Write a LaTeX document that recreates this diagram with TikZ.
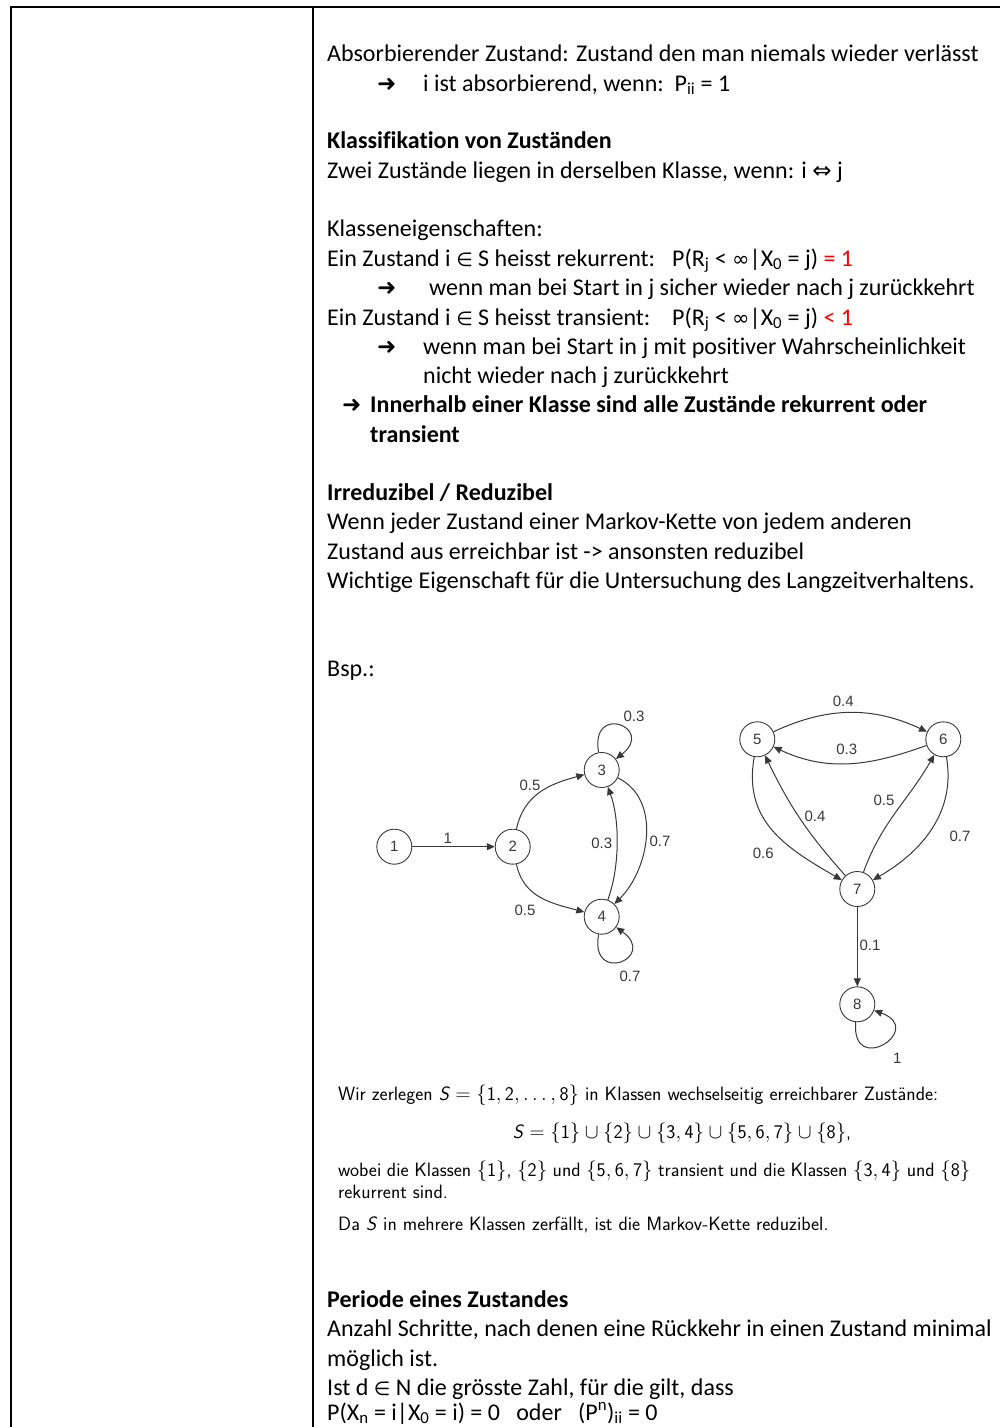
\documentclass[tikz,border=0pt]{standalone}
\usepackage{fontspec}
\setmainfont[Ligatures={NoCommon}]{Carlito}
\newfontfamily\symf{DejaVu Sans}
\newfontfamily\lblf{Liberation Sans}
\usetikzlibrary{arrows.meta}
\definecolor{gr}{HTML}{383838}
\newcommand\Ssf{\textsf{\textit{S}}}
\newcommand\sfm[1]{\mathsf{#1}}
\newcommand\elem{{\symf\fontsize{19}{20}\selectfont ∈}}
\newcommand\infy{{\symf\fontsize{21}{20}\selectfont ∞}}
\tikzset{
  txt/.style={anchor=base west,inner sep=0pt,font=\fontsize{24}{28}\selectfont},
  btxt/.style={txt,font=\fontsize{24}{28}\selectfont\bfseries},
  arr/.style={anchor=base west,inner sep=0pt,font=\symf\fontsize{23}{24}\selectfont},
  stxt/.style={anchor=base west,inner sep=0pt,font=\sffamily\fontsize{19.3}{23}\selectfont},
  frame/.style={line width=1.8pt,black},
  st/.style={circle,draw=gr,line width=0.9pt,minimum size=35pt,inner sep=0pt,font=\lblf\fontsize{15}{15}\selectfont,text=gr},
  ed/.style={draw=gr,line width=1pt,-{Triangle[length=8pt,width=7pt]}},
  lb/.style={font=\lblf\fontsize{15}{15}\selectfont,text=gr,inner sep=0pt}
}
\begin{document}
\begin{tikzpicture}[x=1pt,y=1pt]
\useasboundingbox (0,0) rectangle (1000,-1427);
% table frame
\coordinate (tl) at (11,-7);
\coordinate (tr) at (1001,-7);
\coordinate (bl) at (11,-1428);
\coordinate (dt) at (313,-7);
\coordinate (db) at (313,-1428);
\draw[frame] (tr) -- (tl) -- (bl);
\draw[frame] (dt) -- (db);

% text
\node[txt] (t1) at (327,-61) {Absorbierender Zustand: Zustand den man niemals wieder verlässt};
\node[arr] (a1) at (377,-91) {➜};
\node[txt] (t2) at (423,-91) {i ist absorbierend, wenn:\ \ P\textsubscript{ii} = 1};
\node[btxt] (t3) at (327,-148) {Klassifikation von Zuständen};
\node[txt] (t4) at (327,-178) {Zwei Zustände liegen in derselben Klasse, wenn: i {\symf\fontsize{23}{20}\selectfont ⇔} j};
\node[txt] (t5) at (327,-236) {Klasseneigenschaften:};
\node[txt] (t6) at (327,-266) {Ein Zustand i \elem{} S heisst rekurrent:};
\node[txt] (t6b) at (672,-266) {P(R\textsubscript{j} < \infy|X\textsubscript{0} = j) \textcolor{red}{= 1}};
\node[arr] (a2) at (377,-295) {➜};
\node[txt] (t7) at (429,-295) {wenn man bei Start in j sicher wieder nach j zurückkehrt};
\node[txt] (t8) at (327,-325) {Ein Zustand i \elem{} S heisst transient:};
\node[txt] (t8b) at (672,-325) {P(R\textsubscript{j} < \infy|X\textsubscript{0} = j) \textcolor{red}{< 1}};
\node[arr] (a3) at (377,-354) {➜};
\node[txt] (t9) at (423,-354) {wenn man bei Start in j mit positiver Wahrscheinlichkeit};
\node[txt] (t10) at (423,-383) {nicht wieder nach j zurückkehrt};
\node[arr] (a4) at (342,-412) {➜};
\node[btxt] (t11) at (370,-412) {Innerhalb einer Klasse sind alle Zustände rekurrent oder};
\node[btxt] (t12) at (370,-442) {transient};
\node[btxt] (t13) at (327,-500) {Irreduzibel / Reduzibel};
\node[txt] (t14) at (327,-529) {Wenn jeder Zustand einer Markov-Kette von jedem anderen};
\node[txt] (t15) at (327,-559) {Zustand aus erreichbar ist -> ansonsten reduzibel};
\node[txt] (t16) at (327,-588) {Wichtige Eigenschaft für die Untersuchung des Langzeitverhaltens.};
\node[txt] (t17) at (327,-676) {Bsp.:};

% graph 1
\node[st] (n1) at (394.3,-846.7) {1};
\node[st] (n2) at (512.7,-846.7) {2};
\node[st] (n3) at (601.7,-770) {3};
\node[st] (n4) at (601.7,-916.7) {4};
\draw[ed] (n1) -- (n2);
\draw[ed] (n2) to[out=78,in=195,looseness=1.05] (n3);
\draw[ed] (n2) to[out=-78,in=165,looseness=1.05] (n4);
\draw[ed] (n4) to[out=70,in=-70,looseness=0.8] (n3);
\draw[ed] (n3) to[out=-26,in=45,looseness=1.0] (n4);
\draw[ed] (n3) to[out=100,in=38,looseness=7] (n3);
\draw[ed] (n4) to[out=-100,in=-36,looseness=7] (n4);
\node[lb] (l12) at (447.7,-838.3) {1};
\node[lb] (l23) at (530,-785) {0.5};
\node[lb] (l24) at (525,-910) {0.5};
\node[lb] (l43) at (601.7,-843.3) {0.3};
\node[lb] (l34) at (660,-841.7) {0.7};
\node[lb] (l33) at (634,-716) {0.3};
\node[lb] (l44) at (630,-976) {0.7};

% graph 2
\node[st] (n5) at (757.3,-739.3) {5};
\node[st] (n6) at (943.3,-739.3) {6};
\node[st] (n7) at (857.3,-889) {7};
\node[st] (n8) at (857.3,-1004.3) {8};
\draw[ed] (n5) to[out=25,in=155] (n6);
\draw[ed] (n6) to[out=200,in=-25] (n5);
\draw[ed] (n5) to[out=-100,in=150,looseness=1.1] (n7);
\draw[ed] (n7) to[bend left=8] (n5);
\draw[ed] (n7) to[out=70,in=-120] (n6);
\draw[ed] (n6) to[out=-80,in=30] (n7);
\draw[ed] (n7) -- (n8);
\draw[ed] (n8) to[out=-95,in=-20,looseness=6.5] (n8);
\node[lb] (l56) at (843.3,-701.7) {0.4};
\node[lb] (l65) at (846.7,-749) {0.3};
\node[lb] (l57) at (763.3,-853.3) {0.6};
\node[lb] (l75) at (815,-816.7) {0.4};
\node[lb] (l76) at (884,-800) {0.5};
\node[lb] (l67) at (960,-836) {0.7};
\node[lb] (l78) at (870,-945) {0.1};
\node[lb] (l88) at (897.3,-1058.3) {1};

% sans block
\node[stxt] (s1) at (338,-1100) {Wir zerlegen $\Ssf=\{\sfm{1},\sfm{2},\ldots,\sfm{8}\}$ in Klassen wechselseitig erreichbarer Zustände:};
\node[stxt,anchor=base] (s2) at (682,-1138) {$\Ssf=\{\sfm{1}\}\cup\{\sfm{2}\}\cup\{\sfm{3},\sfm{4}\}\cup\{\sfm{5},\sfm{6},\sfm{7}\}\cup\{\sfm{8}\}$,};
\node[stxt] (s3) at (338,-1176) {\makebox[632pt][s]{wobei die Klassen $\{\sfm{1}\}$, $\{\sfm{2}\}$ und $\{\sfm{5},\sfm{6},\sfm{7}\}$ transient und die Klassen $\{\sfm{3},\sfm{4}\}$ und $\{\sfm{8}\}$}};
\node[stxt] (s4) at (338,-1198) {rekurrent sind.};
\node[stxt] (s5) at (338,-1230) {Da \Ssf\ in mehrere Klassen zerfällt, ist die Markov-Kette reduzibel.};

% bottom
\node[btxt] (b1) at (327,-1307) {Periode eines Zustandes};
\node[txt] (b2) at (327,-1336) {Anzahl Schritte, nach denen eine Rückkehr in einen Zustand minimal};
\node[txt] (b3) at (327,-1366) {möglich ist.};
\node[txt] (b4) at (327,-1395) {Ist d \elem{} N die grösste Zahl, für die gilt, dass};
\node[txt] (b5) at (327,-1420) {P(X\textsubscript{n} = i|X\textsubscript{0} = i) = 0\ \ \ oder\ \ \ (P\textsuperscript{n})\textsubscript{ii} = 0};
\end{tikzpicture}
\end{document}
